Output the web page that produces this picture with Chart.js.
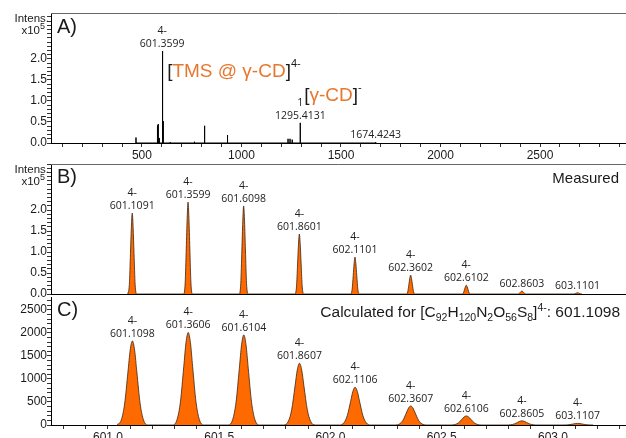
<!DOCTYPE html>
<html>
<head>
<meta charset="utf-8">
<script src="https://cdn.jsdelivr.net/npm/chart.js@4.4.1/dist/chart.umd.min.js"></script>
<style>
  html, body { margin: 0; padding: 0; background: #fff; }
  #wrap { position: relative; width: 626px; height: 438px; overflow: hidden; }
  #wrap canvas { position: absolute; left: 0; top: 0; }
</style>
</head>
<body>
<div id="wrap">
  <canvas id="scanChart" width="626" height="438"></canvas>
  <canvas id="measChart" width="626" height="438"></canvas>
  <canvas id="calcChart" width="626" height="438"></canvas>
</div>
<script>
// full scan (A), intensity x10^5
const scanMz  = [470, 578, 582, 587, 601.3599, 605, 607, 642, 764, 813, 816, 930, 1234, 1244, 1255, 1295.4131, 1674.4243];
const scanInt = [0.13, 0.42, 0.45, 0.12, 2.19, 1.62, 0.52, 0.02, 0.03, 0.41, 0.26, 0.19, 0.10, 0.10, 0.08, 0.48, 0.02];
const scanTagMz = [601.3599, 1295.4131, 1674.4243];
const scanTagCharge = ['4-', '1', ''];

// measured isotope pattern (B), intensity x10^5
const measMz  = [601.1091, 601.3599, 601.6098, 601.8601, 602.1101, 602.3602, 602.6102, 602.8603, 603.1101];
const measInt = [1.93, 2.19, 2.10, 1.43, 0.88, 0.45, 0.21, 0.07, 0.03];
const measCharge = ['4-', '4-', '4-', '4-', '4-', '4-', '4-', '', ''];

// calculated isotope pattern (C)
const calcMz  = [601.1098, 601.3606, 601.6104, 601.8607, 602.1106, 602.3607, 602.6106, 602.8605, 603.1107];
const calcInt = [1826, 2009, 1957, 1341, 820, 413, 196, 90, 35];
const calcCharge = ['4-', '4-', '4-', '4-', '4-', '4-', '4-', '4-', '4-'];

// peak profiles: offset from centroid (m/z) and fraction of apex height
const measShapeDx  = [-0.02, -0.013, -0.008, -0.004, 0, 0.004, 0.008, 0.013, 0.02];
const measShapeRel = [0, 0.12, 0.5, 0.82, 1, 0.82, 0.5, 0.12, 0];
const calcShapeDx  = [-0.07, -0.05, -0.035, -0.02, -0.01, 0, 0.01, 0.02, 0.035, 0.05, 0.07];
const calcShapeRel = [0, 0.06, 0.25, 0.63, 0.89, 1, 0.89, 0.63, 0.25, 0.06, 0];

const AXIS_FONT = 'Liberation Sans, Arial, sans-serif';
const TAG_FONT = '"Open Sans", sans-serif';
const FILL = '#ff6a00';
const ORANGE_TEXT = '#e8772e';

function sticks(mz, ints) {
  const pts = [];
  mz.forEach((m, i) => pts.push({x: m, y: 0}, {x: m, y: ints[i]}, {x: m, y: 0}));
  return pts;
}

function profile(mz, ints, dx, rel) {
  const pts = [];
  mz.forEach((m, i) => dx.forEach((d, j) => pts.push({x: m + d, y: ints[i] * rel[j]})));
  return pts;
}

const isStep = (v, step) => Math.abs(v / step - Math.round(v / step)) < 1e-6;

function yAxis(max, major, labelMax, digits) {
  return {
    type: 'linear', min: 0, max: max,
    afterFit: s => { s.width = 51; },
    border: {color: '#000', width: 1},
    grid: {drawOnChartArea: false, tickLength: 4, color: '#333'},
    ticks: {
      stepSize: major / 5, autoSkip: false, maxTicksLimit: 300, includeBounds: false,
      padding: 0, color: '#1a1a1a', font: {family: AXIS_FONT, size: 12},
      callback: v => (isStep(v, major) && v <= labelMax + 1e-9) ? v.toFixed(digits) : ''
    }
  };
}

function xAxis(min, max, minor, major, digits, height, showLabels) {
  return {
    type: 'linear', min: min, max: max,
    afterFit: s => { s.height = height; },
    border: {color: '#000', width: 1},
    grid: {drawOnChartArea: false, drawTicks: showLabels, tickLength: 4, color: '#333'},
    ticks: {
      display: showLabels, stepSize: minor, autoSkip: false, maxTicksLimit: 300, includeBounds: false,
      maxRotation: 0, padding: 1, color: '#1a1a1a', font: {family: AXIS_FONT, size: 12},
      callback: v => isStep(v, major) ? v.toFixed(digits) : ''
    }
  };
}

// draws a run of text pieces (size, vertical shift, colour) from x on baseline y
function drawRich(ctx, parts, x, y, align) {
  let total = 0;
  parts.forEach(p => { ctx.font = p.size + 'px ' + AXIS_FONT; total += ctx.measureText(p.t).width; });
  let cx = align === 'right' ? x - total : x;
  ctx.textAlign = 'left';
  parts.forEach(p => {
    ctx.font = p.size + 'px ' + AXIS_FONT;
    ctx.fillStyle = p.color || '#1a1a1a';
    ctx.fillText(p.t, cx, y + (p.dy || 0));
    cx += ctx.measureText(p.t).width;
  });
}

function drawIntens(ctx, area) {
  drawRich(ctx, [{t: 'Intens.', size: 11.5}], area.left - 2, area.top + 9, 'right');
  drawRich(ctx, [{t: 'x10', size: 11.5}, {t: '5', size: 9, dy: -5}], area.left - 6, area.top + 21, 'right');
}

function drawPanelLetter(ctx, area, letter, baseline) {
  drawRich(ctx, [{t: letter, size: 20}], area.left + 6, area.top + baseline, 'left');
}

function drawTopBorder(ctx, area) {
  ctx.save();
  ctx.strokeStyle = '#666';
  ctx.lineWidth = 1;
  ctx.beginPath();
  ctx.moveTo(area.left, area.top + 0.5);
  ctx.lineTo(area.right, area.top + 0.5);
  ctx.stroke();
  ctx.restore();
}

function tagPlugin(tagMz, tagInt, tagCharge, extra) {
  return {
    id: 'peakTags',
    afterDraw(chart) {
      const {ctx, chartArea, scales: {x, y}} = chart;
      ctx.save();
      ctx.font = '10.5px ' + TAG_FONT;
      ctx.fillStyle = '#222';
      ctx.textAlign = 'center';
      ctx.textBaseline = 'alphabetic';
      tagMz.forEach((m, i) => {
        const px = x.getPixelForValue(m);
        const py = y.getPixelForValue(tagInt[i]) - 4;
        ctx.fillText(m.toFixed(4), px, py);
        if (tagCharge[i]) ctx.fillText(tagCharge[i], px, py - 13);
      });
      ctx.restore();
      ctx.save();
      extra(ctx, chartArea, x, y);
      ctx.restore();
    }
  };
}

const baseOptions = (padding) => ({
  responsive: false,
  animation: false,
  events: [],
  layout: {padding: padding},
  plugins: {legend: {display: false}, tooltip: {enabled: false}}
});

// A) full scan
new Chart(document.getElementById('scanChart'), {
  type: 'line',
  data: {datasets: [{
    data: sticks(scanMz, scanInt),
    borderColor: '#000', borderWidth: 1, pointRadius: 0, fill: false
  }]},
  options: Object.assign(baseOptions({top: 13, bottom: 275, left: 0, right: 0}), {
    scales: {
      x: xAxis(43, 2932, 100, 500, 0, 20, true),
      y: yAxis(3.095, 0.5, 2.0, 1)
    }
  }),
  plugins: [tagPlugin(scanTagMz, scanTagMz.map(m => scanInt[scanMz.indexOf(m)]), scanTagCharge, (ctx, area, x, y) => {
    drawTopBorder(ctx, area);
    drawIntens(ctx, area);
    drawPanelLetter(ctx, area, 'A)', 20);
    const tx = x.getPixelForValue(601.3599) + 5;
    drawRich(ctx, [
      {t: '[', size: 19},
      {t: 'TMS @ γ-CD', size: 19, color: ORANGE_TEXT},
      {t: ']', size: 19},
      {t: '4-', size: 11, dy: -10}
    ], tx, area.top + 64, 'left');
    const gx = x.getPixelForValue(1295.4131) + 4;
    drawRich(ctx, [
      {t: '[', size: 19},
      {t: 'γ-CD', size: 19, color: ORANGE_TEXT},
      {t: ']', size: 19},
      {t: '-', size: 11, dy: -10}
    ], gx, area.top + 88, 'left');
  })]
});

// B) measured isotope pattern
new Chart(document.getElementById('measChart'), {
  type: 'line',
  data: {datasets: [{
    data: profile(measMz, measInt, measShapeDx, measShapeRel),
    borderColor: '#3b2412', borderWidth: 0.8, backgroundColor: FILL,
    pointRadius: 0, fill: 'origin', cubicInterpolationMode: 'monotone'
  }]},
  options: Object.assign(baseOptions({top: 164, bottom: 144, left: 0, right: 0}), {
    scales: {
      x: xAxis(600.744, 603.328, 0.1, 0.5, 1, 0, false),
      y: yAxis(3.1, 0.5, 2.0, 1)
    }
  }),
  plugins: [tagPlugin(measMz, measInt, measCharge, (ctx, area) => {
    drawTopBorder(ctx, area);
    drawIntens(ctx, area);
    drawPanelLetter(ctx, area, 'B)', 19);
    drawRich(ctx, [{t: 'Measured', size: 15}], area.right - 7, area.top + 19, 'right');
  })]
});

// C) calculated isotope pattern
new Chart(document.getElementById('calcChart'), {
  type: 'line',
  data: {datasets: [{
    data: profile(calcMz, calcInt, calcShapeDx, calcShapeRel),
    borderColor: '#3b2412', borderWidth: 0.8, backgroundColor: FILL,
    pointRadius: 0, fill: 'origin', cubicInterpolationMode: 'monotone'
  }]},
  options: Object.assign(baseOptions({top: 297, bottom: 0, left: 0, right: 0}), {
    scales: {
      x: xAxis(600.744, 603.328, 0.1, 0.5, 1, 13, true),
      y: yAxis(2780, 500, 2500, 0)
    }
  }),
  plugins: [tagPlugin(calcMz, calcInt, calcCharge, (ctx, area) => {
    drawPanelLetter(ctx, area, 'C)', 19);
    drawRich(ctx, [
      {t: 'Calculated for [C', size: 15.5},
      {t: '92', size: 10.5, dy: 4},
      {t: 'H', size: 15.5},
      {t: '120', size: 10.5, dy: 4},
      {t: 'N', size: 15.5},
      {t: '2', size: 10.5, dy: 4},
      {t: 'O', size: 15.5},
      {t: '56', size: 10.5, dy: 4},
      {t: 'S', size: 15.5},
      {t: '8', size: 10.5, dy: 4},
      {t: ']', size: 15.5},
      {t: '4-', size: 10.5, dy: -6},
      {t: ': 601.1098', size: 15.5}
    ], area.right - 6, area.top + 20, 'right');
  })]
});
</script>
</body>
</html>
